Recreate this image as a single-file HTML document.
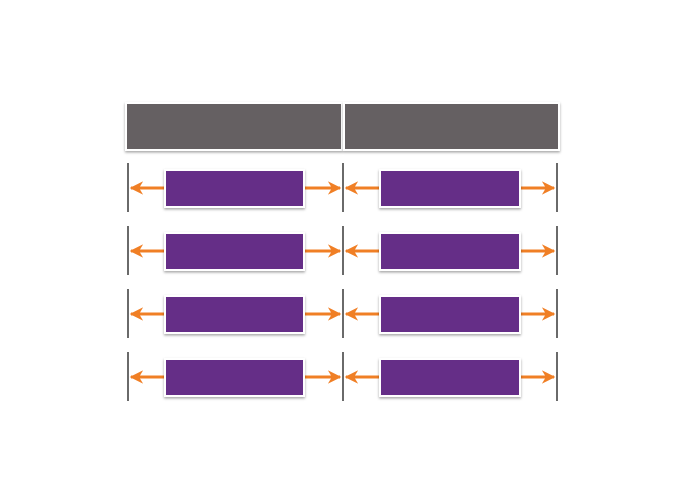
<!DOCTYPE html>
<html><head><meta charset="utf-8"><style>
html,body{margin:0;padding:0;background:#fff;}
svg{display:block;}
</style></head><body>
<svg width="680" height="490" viewBox="0 0 680 490" xmlns="http://www.w3.org/2000/svg">
<defs>
<filter id="sh" x="-10%" y="-20%" width="120%" height="150%">
<feDropShadow dx="0" dy="1.5" stdDeviation="1.2" flood-color="#000" flood-opacity="0.35"/>
</filter>
<marker id="ah" viewBox="0 0 10 10" refX="9" refY="5" markerWidth="4.5" markerHeight="4.5" orient="auto-start-reverse" markerUnits="strokeWidth">
<path d="M0,0 L10,5 L0,10 L3,5 Z" fill="#f07f25"/>
</marker>
<g id="row">
<line x1="128" y1="163" x2="128" y2="212" stroke="#6a6a6a" stroke-width="2"/>
<line x1="343" y1="163" x2="343" y2="212" stroke="#6a6a6a" stroke-width="2"/>
<line x1="557" y1="163" x2="557" y2="212" stroke="#6a6a6a" stroke-width="2"/>
<line x1="165" y1="188" x2="131" y2="188" stroke="#f07f25" stroke-width="3" marker-end="url(#ah)"/>
<line x1="303" y1="188" x2="340" y2="188" stroke="#f07f25" stroke-width="3" marker-end="url(#ah)"/>
<line x1="380" y1="188" x2="346" y2="188" stroke="#f07f25" stroke-width="3" marker-end="url(#ah)"/>
<line x1="519" y1="188" x2="554" y2="188" stroke="#f07f25" stroke-width="3" marker-end="url(#ah)"/>
<rect x="165" y="170" width="139" height="37" fill="#652d87" stroke="#fff" stroke-width="2" filter="url(#sh)"/>
<rect x="380" y="170" width="140" height="37" fill="#652d87" stroke="#fff" stroke-width="2" filter="url(#sh)"/>
</g>
</defs>
<rect width="680" height="490" fill="#fff"/>
<rect x="126" y="103" width="216" height="47" fill="#656162" stroke="#fff" stroke-width="2" filter="url(#sh)"/>
<rect x="344" y="103" width="215" height="47" fill="#656162" stroke="#fff" stroke-width="2" filter="url(#sh)"/>
<use href="#row"/>
<use href="#row" transform="translate(0,63)"/>
<use href="#row" transform="translate(0,126)"/>
<use href="#row" transform="translate(0,189)"/>
</svg>
</body></html>
